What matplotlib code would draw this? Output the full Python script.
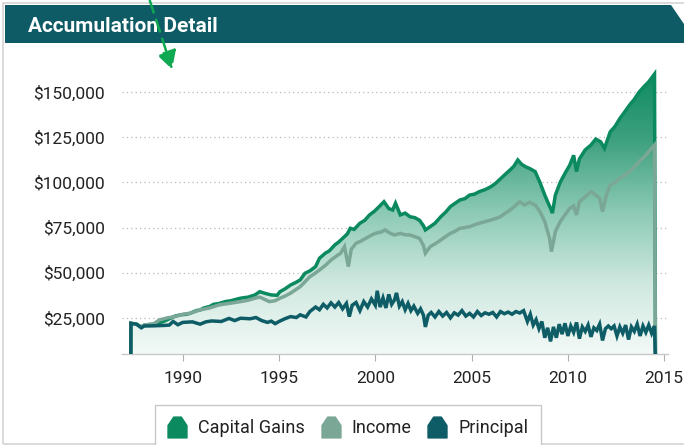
import numpy as np
import matplotlib
matplotlib.use("Agg")
import matplotlib.pyplot as plt
from matplotlib.path import Path
from matplotlib.patches import Rectangle, Polygon, FancyArrowPatch
from matplotlib.lines import Line2D
from matplotlib.colors import LinearSegmentedColormap
from matplotlib.ticker import FuncFormatter

plt.rcParams['font.family'] = ['Roboto', 'DejaVu Sans']

# ---------------- data (values in $ thousands) ----------------
cg_years = [1987.30, 1987.31, 1987.6, 1987.85, 1988.0, 1988.5, 1989.0, 1989.3, 1989.6, 1989.9,
            1990.2, 1990.4, 1990.7, 1990.9, 1991.1, 1991.4, 1991.6, 1991.9, 1992.2, 1992.5,
            1993.0, 1993.4, 1993.75, 1994.0, 1994.3, 1994.6, 1994.9, 1995.05, 1995.3, 1995.6,
            1995.85, 1996.1, 1996.35, 1996.6, 1996.9, 1997.1, 1997.4, 1997.6, 1997.9, 1998.1,
            1998.4, 1998.55, 1998.7, 1998.9, 1999.2, 1999.45, 1999.7, 1999.95, 2000.2, 2000.45,
            2000.7, 2000.9, 2001.05, 2001.3, 2001.55, 2001.8, 2002.05, 2002.3, 2002.5, 2002.6,
            2002.85, 2003.1, 2003.4, 2003.65, 2003.9, 2004.15, 2004.4, 2004.65, 2004.9, 2005.15,
            2005.4, 2005.7, 2006.0, 2006.25, 2006.5, 2006.75, 2007.0, 2007.2, 2007.4, 2007.6,
            2007.8, 2008.05, 2008.3, 2008.55, 2008.8, 2009.0, 2009.1, 2009.2, 2009.35, 2009.6,
            2009.85, 2010.1, 2010.3, 2010.45, 2010.6, 2010.9, 2011.2, 2011.45, 2011.7, 2011.9,
            2012.2, 2012.45, 2012.7, 2012.95, 2013.2, 2013.45, 2013.7, 2013.95, 2014.2, 2014.5,
            2014.55]
cg_values = [0, 22, 21.5, 20, 21, 21.5, 23, 24.5, 26, 26.7,
             27, 27.6, 29, 29.4, 30.5, 31.3, 32.5, 33, 34, 34.5,
             35.9, 36.5, 37.7, 39.5, 38.5, 37.7, 37.5, 39.5, 41, 43.2,
             44.5, 46, 49.7, 51, 53.4, 58, 60.8, 62, 65.4, 67,
             70, 71.5, 74.6, 74, 77.4, 79, 82, 84, 86.6, 89.3,
             85.5, 84.7, 88.5, 82, 83, 81, 80.5, 79, 76, 73.7,
             75.5, 77.4, 81, 83.5, 86.6, 88.5, 90.3, 91, 93, 93.5,
             94.9, 96, 97.6, 99.5, 102, 104.5, 106.9, 109, 112.4, 110,
             108.7, 107.5, 106, 100, 93, 88, 85.7, 83, 93, 100,
             105, 109.6, 115, 106, 113, 118, 120.7, 124, 122.5, 118.9,
             128, 131, 135.4, 139, 142.8, 146, 150, 153, 155.7, 160,
             0]

inc_years = [1987.30, 1987.31, 1987.6, 1987.85, 1988.0, 1988.5, 1988.8, 1989.2, 1989.6, 1990.0,
             1990.4, 1990.9, 1991.4, 1991.9, 1992.4, 1993.0, 1993.4, 1993.75, 1994.0, 1994.5,
             1994.8, 1995.05, 1995.3, 1995.6, 1995.85, 1996.1, 1996.35, 1996.6, 1996.85, 1997.1,
             1997.4, 1997.7, 1997.95, 1998.2, 1998.4, 1998.6, 1998.75, 1999.0, 1999.25, 1999.5,
             1999.75, 2000.0, 2000.3, 2000.5, 2000.75, 2001.0, 2001.3, 2001.55, 2001.8, 2002.05,
             2002.3, 2002.5, 2002.6, 2002.85, 2003.1, 2003.4, 2003.65, 2003.9, 2004.15, 2004.4,
             2004.65, 2004.9, 2005.15, 2005.4, 2005.7, 2006.0, 2006.25, 2006.5, 2006.75, 2007.0,
             2007.25, 2007.5, 2007.75, 2008.0, 2008.3, 2008.55, 2008.8, 2008.95, 2009.05, 2009.15,
             2009.35, 2009.6, 2009.85, 2010.1, 2010.3, 2010.45, 2010.6, 2010.9, 2011.2, 2011.45,
             2011.65, 2011.8, 2012.0, 2012.2, 2012.45, 2012.7, 2012.95, 2013.2, 2013.45, 2013.7,
             2013.95, 2014.2, 2014.5, 2014.55]
inc_values = [0, 22, 21.5, 20, 21, 21.8, 23.9, 25, 25.7, 27,
              27.6, 29.4, 30.5, 32.2, 33, 34, 34.8, 35.9, 36.5, 34,
              34.5, 35.9, 37, 38.7, 40.5, 42.3, 45, 47.8, 49.5, 51.5,
              54, 57, 59, 60.8, 64.4, 53.4, 63, 66.3, 67.5, 69,
              70.5, 71.8, 72.5, 73.7, 72, 70.9, 71.8, 71, 70.9, 70,
              69, 65, 60.8, 64.4, 66, 68.1, 70, 71.8, 73, 74.6,
              75, 75.5, 76.5, 77.4, 78.3, 79.2, 80, 81, 83, 84.7,
              87, 89.3, 87.5, 89, 87.5, 83.8, 78.3, 72.7, 69, 61.7,
              72.7, 78.3, 82, 85.7, 87, 82, 89.3, 92, 94.9, 93,
              91.2, 83.8, 93, 98.6, 100, 102.3, 104, 106, 108.5, 111.5,
              114, 117, 120.7, 0]

pr_years = [1987.30, 1987.31, 1987.6, 1987.85, 1988.0, 1988.5, 1989.0, 1989.3, 1989.5, 1989.75,
            1990.0, 1990.5, 1990.9, 1991.2, 1991.5, 1992.0, 1992.4, 1992.7, 1993.0, 1993.5,
            1993.8, 1994.1, 1994.4, 1994.6, 1994.8, 1995.0, 1995.3, 1995.6, 1995.9, 1996.1,
            1996.4, 1996.6, 1996.9, 1997.1, 1997.3, 1997.5, 1997.7, 1997.9, 1998.1, 1998.3,
            1998.5, 1998.65, 1998.8, 1999.0, 1999.2, 1999.4, 1999.6, 1999.8, 2000.0, 2000.1,
            2000.25, 2000.4, 2000.55, 2000.7, 2000.85, 2001.0, 2001.1, 2001.25, 2001.4, 2001.55,
            2001.7, 2001.85, 2002.0, 2002.2, 2002.35, 2002.5, 2002.6, 2002.75, 2002.9, 2003.1,
            2003.3, 2003.5, 2003.7, 2003.9, 2004.1, 2004.3, 2004.5, 2004.7, 2004.9, 2005.1,
            2005.3, 2005.5, 2005.7, 2005.9, 2006.1, 2006.3, 2006.5, 2006.7, 2006.9, 2007.1,
            2007.3, 2007.5, 2007.7, 2007.9, 2008.05, 2008.2, 2008.35, 2008.5, 2008.65, 2008.8,
            2008.95, 2009.1, 2009.25, 2009.4, 2009.55, 2009.7, 2009.85, 2010.0, 2010.15, 2010.3,
            2010.45, 2010.6, 2010.75, 2010.9, 2011.05, 2011.2, 2011.35, 2011.5, 2011.65, 2011.8,
            2011.95, 2012.1, 2012.25, 2012.4, 2012.55, 2012.7, 2012.85, 2013.0, 2013.15, 2013.3,
            2013.45, 2013.6, 2013.75, 2013.9, 2014.05, 2014.2, 2014.35, 2014.5, 2014.55]
pr_values = [0, 22, 21.5, 19.5, 20.5, 20.6, 20.8, 21, 23, 21.2,
             22.5, 22.8, 21.5, 22.8, 23.3, 23, 24.7, 23.5, 24.8, 24.5,
             25.2, 23.5, 22.5, 23.2, 21.8, 23, 24.5, 25.7, 25.2, 26.7,
             25.5, 28.5, 31, 29.5, 32.5, 30.5, 33.3, 31, 33.5, 30,
             33, 25.7, 32, 33.5, 29, 34, 31, 35.5, 32, 40,
             31, 36, 30.5, 38, 32.5, 35, 38.8, 31.5, 34, 29.5,
             33, 29, 31.5, 27.5, 30, 26.5, 20, 26.5, 28, 25.5,
             28.5, 26, 28, 25, 27.8, 26.5, 29, 26, 27.5, 25.5,
             28.5, 26.3, 27.8, 27, 28, 25.5, 28.5, 27.3, 28.2, 27,
             28.5, 27.7, 29, 23, 27, 21, 24, 19, 23, 14,
             19.5, 12, 20, 14, 21.5, 16, 22, 15, 20.5, 17,
             22.5, 13.5, 20, 17.5, 21, 14.5, 19.5, 18, 21.5, 12.5,
             19, 20.5, 19, 20.5, 15, 20, 16.5, 21, 13, 20,
             17.5, 21.5, 15, 20.5, 17, 21, 16.5, 20.5, 0]

series_names = ["Capital Gains", "Income", "Principal"]
y_ticks = [25, 50, 75, 100, 125, 150]
x_ticks = [1990, 1995, 2000, 2005, 2010, 2015]
title_text = "Accumulation Detail"

# ---------------- styling ----------------
C_CG = "#0b8a60"
C_INC = "#7ba796"
C_PR = "#0d5c66"
C_HEAD = "#0e5b66"

W, H = 684, 445
fig = plt.figure(figsize=(W / 100, H / 100), dpi=100)

def fx(px):
    return px / W

def fy(py):
    return 1 - py / H

# outer border
fig.patches.append(Rectangle((fx(3), fy(444)), fx(684 - 3) + 0.01, 441 / H,
                             transform=fig.transFigure, fill=False,
                             edgecolor="#d4d4d4", lw=1.2, zorder=0))
# header bar with diagonal cut
hdr = Polygon([(fx(5), fy(43)), (fx(684), fy(43)), (fx(684), fy(24)),
               (fx(671), fy(5)), (fx(5), fy(5))],
              closed=True, transform=fig.transFigure, facecolor=C_HEAD,
              edgecolor="none", zorder=1)
fig.patches.append(hdr)
fig.text(fx(28), fy(26), title_text, color="white", fontsize=15,
         fontweight="bold", va="center", ha="left", zorder=2)

ax = fig.add_axes([fx(121.7), fy(354), fx(668 - 121.7), (354 - 65) / H])
ax.set_xlim(1986.83, 2015.2)
ax.set_ylim(5, 165)

# gradient fill clipped to area under Capital Gains
cmap = LinearSegmentedColormap.from_list(
    "g", ["#f3f9f7", "#cfe8df", "#8ccab5", "#3fa17f", "#0b8a60"])
grad = np.linspace(0, 1, 256).reshape(-1, 1)
im = ax.imshow(grad, cmap=cmap, origin="lower", aspect="auto",
               extent=[1986.83, 2015.2, 5, 162], zorder=1)
poly = ax.fill_between(cg_years, cg_values, 0, facecolor="none",
                       edgecolor="none")
clip_path = poly.get_paths()[0]
im.set_clip_path(clip_path, transform=ax.transData)

ax.plot(cg_years, cg_values, color=C_CG, lw=2.5, zorder=3,
        solid_joinstyle="miter")
ax.plot(inc_years, inc_values, color=C_INC, lw=2.5, zorder=4,
        solid_joinstyle="miter")
ax.plot(pr_years, pr_values, color=C_PR, lw=2.5, zorder=5,
        solid_joinstyle="miter")

ax.set_yticks(y_ticks)
ax.yaxis.set_major_formatter(FuncFormatter(lambda v, p: f"${v * 1000:,.0f}"))
ax.set_xticks(x_ticks)
ax.grid(axis="y", color="#b8b8b8", linestyle=(0, (1, 2.5)), lw=0.9)
ax.set_axisbelow(True)
for s in ["top", "right", "left"]:
    ax.spines[s].set_visible(False)
ax.spines["bottom"].set_color("#c8c8c8")
ax.spines["bottom"].set_linewidth(1.0)
ax.tick_params(axis="y", length=0, pad=12, labelsize=12.5, labelcolor="#222222")
ax.tick_params(axis="x", length=5, color="#b0b0b0", pad=7, labelsize=12.5,
               labelcolor="#222222")

# annotation arrow (green dashed)
fig.patches.append(FancyArrowPatch(
    (fx(149), fy(-2)), (fx(173), fy(72)), transform=fig.transFigure,
    arrowstyle="-|>,head_length=11,head_width=6", linestyle=(0, (5, 3)),
    color="#10a850", lw=1.8, zorder=10))

# legend
fig.patches.append(Rectangle((fx(155), fy(450)), fx(541 - 155), (450 - 405) / H,
                             transform=fig.transFigure, facecolor="white",
                             edgecolor="#c8c8c8", lw=1.0, zorder=3))
house = Path([(-0.5, -0.55), (0.5, -0.55), (0.5, 0.1), (0.2, 0.55),
              (-0.2, 0.55), (-0.5, 0.1), (-0.5, -0.55)],
             [Path.MOVETO] + [Path.LINETO] * 5 + [Path.CLOSEPOLY])
handles = [Line2D([], [], linestyle="none", marker=house, markersize=15,
                  markerfacecolor=c, markeredgecolor=c)
           for c in [C_CG, C_INC, C_PR]]
leg = fig.legend(handles, series_names, loc="center",
                 bbox_to_anchor=(fx(347.5), fy(428)), ncol=3, frameon=False,
                 fontsize=13, handlelength=1.1, handletextpad=0.6,
                 columnspacing=0.9)
leg.set_zorder(11)
for t in leg.get_texts():
    t.set_color("#222222")

fig.savefig("out.png", dpi=100)
